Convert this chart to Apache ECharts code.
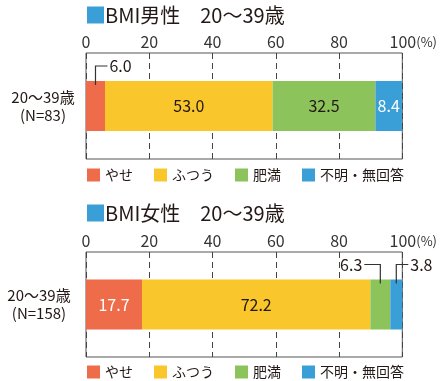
<!DOCTYPE html>
<html><head><meta charset="utf-8">
<script src="https://cdn.jsdelivr.net/npm/echarts@6/dist/echarts.min.js"></script>
<style>html,body{margin:0;padding:0;background:#fff}#c{width:440px;height:381px}</style>
</head><body><div id="c"></div>
<script>
// ---- data ----
const seriesNames = ['やせ', 'ふつう', '肥満', '不明・無回答'];
const maleCategory = ['20～39歳\n(N=83)'];
const femaleCategory = ['20～39歳\n(N=158)'];
const maleValues = [6.0, 53.0, 32.5, 8.4];
const femaleValues = [17.7, 72.2, 6.3, 3.8];
const xTickValues = [0, 20, 40, 60, 80, 100];
const maleTitle = 'BMI男性　20～39歳';
const femaleTitle = 'BMI女性　20～39歳';
// segments whose value is written outside the bar with a leader line
const maleCallouts = [{ seg: 0, side: 1 }];
const femaleCallouts = [{ seg: 2, side: -1 }, { seg: 3, side: 1 }];

// ---- style ----
const FONT = '"Noto Sans CJK JP", "Noto Sans", sans-serif';
const colors = ['#EE6C4A', '#F9C62B', '#8DC35B', '#3A9FD6'];
const labelColors = ['#ffffff', '#231815', '#231815', '#ffffff'];
const BAR_W = 50;
const TEXT = '#231815';

function calloutData(values, callouts) {
  return callouts.map(c => {
    let start = 0;
    for (let i = 0; i < c.seg; i++) start += values[i];
    return [start + values[c.seg] / 2, 0, c.side, values[c.seg]];
  });
}

function calloutRenderer(params, api) {
  const mid = api.value(0), dir = api.value(2), v = api.value(3);
  const p = api.coord([mid, api.value(1)]);
  const top = p[1] - BAR_W / 2;
  const yLine = top - 15;
  const xEnd = p[0] + dir * (dir > 0 ? 12 : 16);
  return {
    type: 'group',
    children: [
      { type: 'polyline', shape: { points: [[p[0], top + 4], [p[0], yLine], [xEnd, yLine]] },
        style: { stroke: '#333', lineWidth: 1.2, fill: null } },
      { type: 'text', x: xEnd + dir * 2, y: yLine,
        style: { text: v.toFixed(1), fontSize: 16, fill: TEXT, fontFamily: FONT,
                 align: dir > 0 ? 'left' : 'right', verticalAlign: 'middle' } }
    ]
  };
}

function makeBars(values, callouts, axisIdx, stack) {
  const hidden = callouts.map(c => c.seg);
  return seriesNames.map((name, i) => ({
    name: name, type: 'bar', stack: stack, barWidth: BAR_W,
    xAxisIndex: axisIdx, yAxisIndex: axisIdx,
    itemStyle: { color: colors[i] },
    data: [{
      value: values[i],
      label: {
        show: hidden.indexOf(i) < 0, position: 'inside',
        color: labelColors[i], fontSize: 16, fontFamily: FONT,
        formatter: p => Number(p.value).toFixed(1)
      }
    }]
  }));
}

function xAxisCfg(gridIndex) {
  return {
    gridIndex: gridIndex, type: 'value', position: 'top',
    min: xTickValues[0], max: xTickValues[xTickValues.length - 1],
    interval: xTickValues[1] - xTickValues[0],
    axisLine: { show: false }, axisTick: { show: false },
    splitLine: { show: true, lineStyle: { color: '#444', type: [6, 4], width: 1 } },
    axisLabel: {
      margin: 3, color: '#333', fontSize: 16, fontFamily: FONT,
      formatter: v => v === 100 ? '{pad| }{n|100}{p|(%)}' : '{n|' + v + '}',
      rich: {
        pad: { width: 22 },
        n: { fontSize: 16, color: '#333', fontFamily: FONT },
        p: { fontSize: 13, color: '#333', fontFamily: FONT }
      }
    }
  };
}

function yAxisCfg(gridIndex, cats, margin) {
  return {
    gridIndex: gridIndex, type: 'category', data: cats,
    axisLine: { show: false }, axisTick: { show: false },
    axisLabel: { color: TEXT, fontSize: 15, lineHeight: 18, align: 'center',
                 margin: margin, fontFamily: FONT }
  };
}

function titleCfg(text, top) {
  return {
    left: 87, top: top, padding: 0,
    text: '{sq|}{t|' + text + '}',
    textStyle: {
      rich: {
        sq: { width: 17, height: 17, backgroundColor: '#3A9FD6' },
        t: { fontSize: 20, fontWeight: 'normal', color: TEXT, fontFamily: FONT, padding: [0, 0, 0, 1] }
      }
    }
  };
}

function legendCfg(top) {
  return {
    left: 87, top: top, padding: 0, itemGap: 21, itemWidth: 13, itemHeight: 13,
    icon: 'rect', data: seriesNames, selectedMode: false,
    textStyle: { color: TEXT, fontSize: 14, fontFamily: FONT }
  };
}

const chart = echarts.init(document.getElementById('c'), null, { renderer: 'canvas' });
chart.setOption({
  animation: false,
  backgroundColor: '#fff',
  textStyle: { fontFamily: FONT },
  title: [titleCfg(maleTitle, 5), titleCfg(femaleTitle, 203)],
  legend: [legendCfg(168), legendCfg(365)],
  grid: [
    { left: 86, right: 36, top: 53, height: 106, show: true, borderColor: '#555', borderWidth: 1 },
    { left: 86, right: 36, top: 252, height: 105, show: true, borderColor: '#555', borderWidth: 1 }
  ],
  xAxis: [xAxisCfg(0), xAxisCfg(1)],
  yAxis: [yAxisCfg(0, maleCategory, 43), yAxisCfg(1, femaleCategory, 47)],
  series: [
    ...makeBars(maleValues, maleCallouts, 0, 'male'),
    ...makeBars(femaleValues, femaleCallouts, 1, 'female'),
    { name: 'callout-m', type: 'custom', xAxisIndex: 0, yAxisIndex: 0, z: 5,
      renderItem: calloutRenderer, data: calloutData(maleValues, maleCallouts) },
    { name: 'callout-f', type: 'custom', xAxisIndex: 1, yAxisIndex: 1, z: 5,
      renderItem: calloutRenderer, data: calloutData(femaleValues, femaleCallouts) }
  ]
});
</script>
</body></html>
